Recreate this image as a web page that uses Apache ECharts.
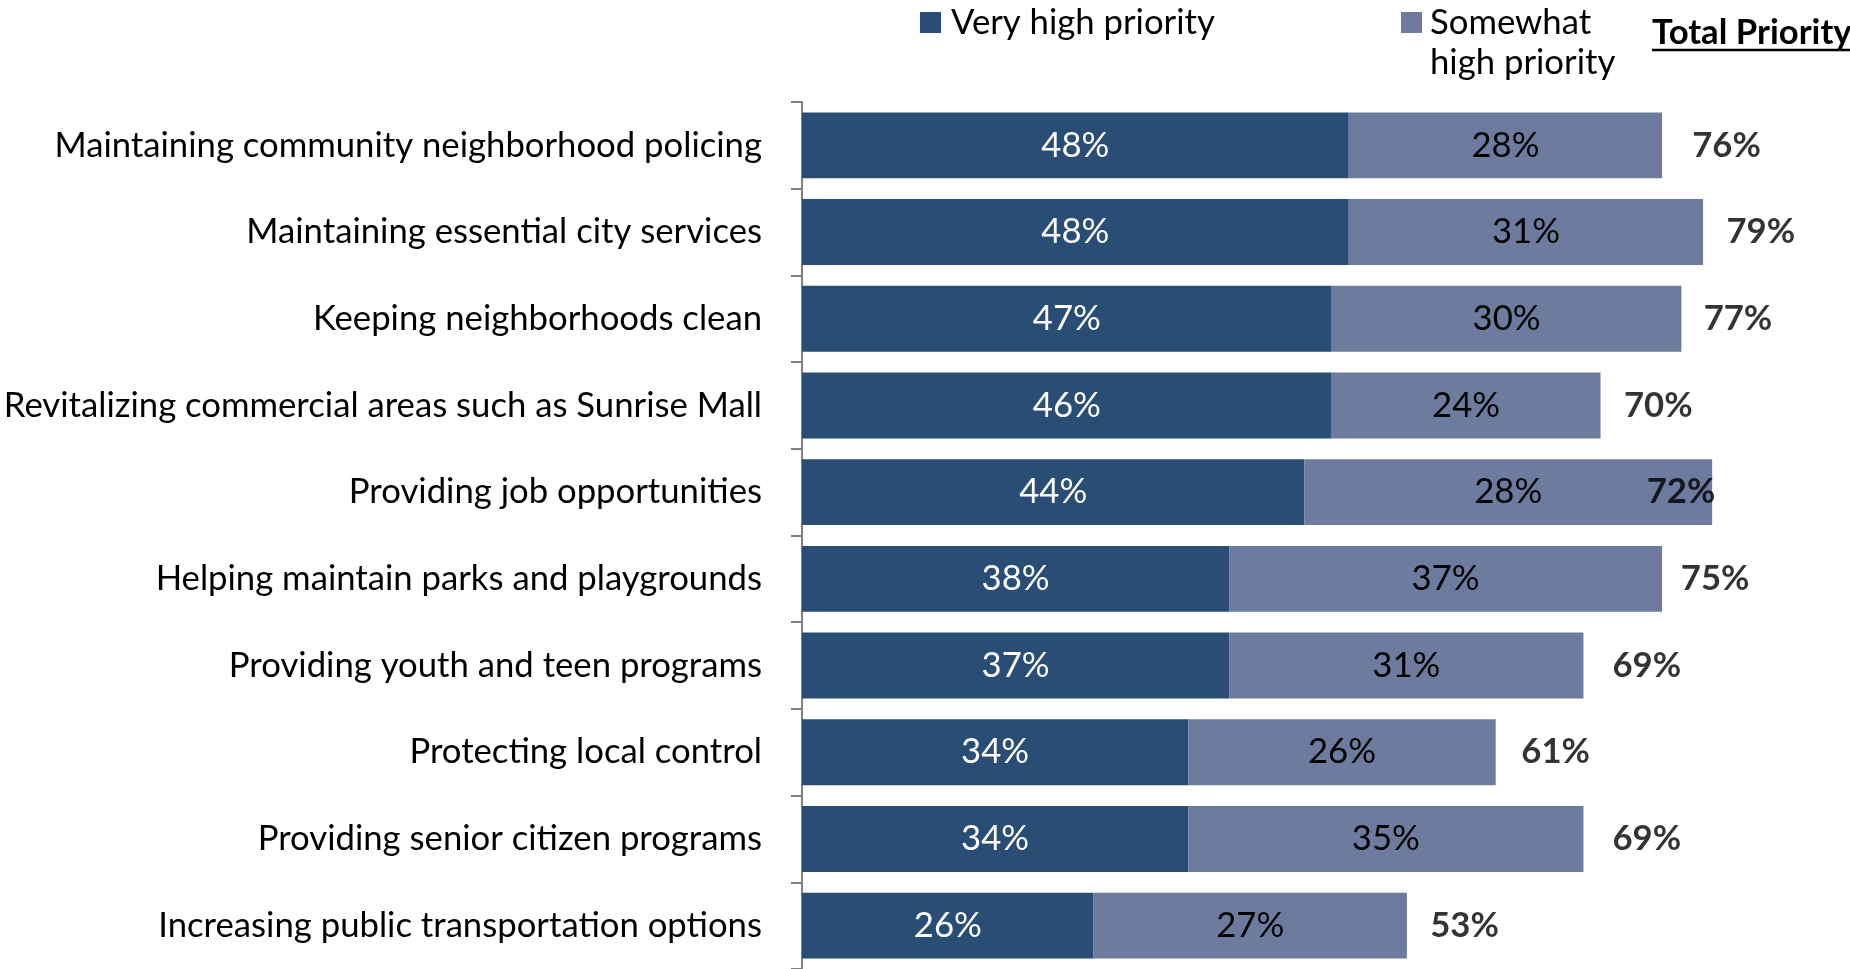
<!DOCTYPE html>
<html>
<head>
<meta charset="utf-8">
<style>
  html, body { margin: 0; padding: 0; background: #ffffff; }
  #chart { width: 1850px; height: 969px; }
</style>
<script src="https://cdn.jsdelivr.net/npm/echarts@6/dist/echarts.min.js"></script>
</head>
<body>
<div id="chart"></div>
<script>
// ---------------- data ----------------
const categories = [
  'Maintaining community neighborhood policing',
  'Maintaining essential city services',
  'Keeping neighborhoods clean',
  'Revitalizing commercial areas such as Sunrise Mall',
  'Providing job opportunities',
  'Helping maintain parks and playgrounds',
  'Providing youth and teen programs',
  'Protecting local control',
  'Providing senior citizen programs',
  'Increasing public transportation options'
];
// bar lengths as drawn in the picture
const veryHigh     = [48.0, 48.0, 46.5, 46.5, 44.1, 37.5, 37.5, 33.9, 33.9, 25.6];
const somewhatHigh = [27.5, 31.1, 30.7, 23.6, 35.8, 38.0, 31.1, 27.0, 34.7, 27.5];
// printed labels
const veryHighLabels     = [48, 48, 47, 46, 44, 38, 37, 34, 34, 26];
const somewhatHighLabels = [28, 31, 30, 24, 28, 37, 31, 26, 35, 27];
const totalLabels        = [76, 79, 77, 70, 72, 75, 69, 61, 69, 53];

const seriesNames = ['Very high priority', 'Somewhat high priority'];
const totalTitle = 'Total Priority';

// ---------------- styling ----------------
const FONT = 'Lato';
const cv = document.createElement('canvas').getContext('2d');
function textWidth(t, weight, size) { cv.font = weight + ' ' + size + 'px ' + FONT; return cv.measureText(t).width; }
// size the font so the longest label spans the same width as in the reference
const fs = Math.round(100 * 708 / textWidth(categories[0], 'normal', 100) * 10) / 10;
const DARK = '#294D75';
const LIGHT = '#6D7B9E';
const AXIS = '#808080';

const chart = echarts.init(document.getElementById('chart'), null, { renderer: 'canvas' });
const titleW = textWidth(totalTitle, 'bold', fs);

const option = {
  animation: false,
  backgroundColor: '#ffffff',
  textStyle: { fontFamily: FONT },
  grid: { left: 802, top: 102, width: 92 * 11.45, height: 870, containLabel: false },
  legend: [
    {
      data: [seriesNames[0]], left: 920, top: 5, padding: 0, itemWidth: 21, itemHeight: 21,
      icon: 'rect', selectedMode: false,
      textStyle: { fontFamily: FONT, fontSize: fs, color: '#000', padding: [0, 0, 0, 5] }
    },
    {
      data: [seriesNames[1]], left: 1401, top: 5, padding: 0, itemWidth: 21, itemHeight: 21,
      icon: 'rect', selectedMode: false,
      formatter: function (n) { return n.split(' ')[0]; },
      textStyle: { fontFamily: FONT, fontSize: fs, color: '#000', padding: [0, 0, 0, 3] }
    }
  ],
  graphic: [
    { type: 'text', left: 1430, top: 45, style: { text: seriesNames[1].split(' ').slice(1).join(' '), font: 'normal ' + fs + 'px ' + FONT, fill: '#000' } },
    { type: 'text', x: 1652, y: 33, style: { text: totalTitle, font: 'bold ' + fs + 'px ' + FONT, fill: '#000', verticalAlign: 'middle', align: 'left' } },
    { type: 'line', shape: { x1: 1652, y1: 50, x2: 1652 + titleW, y2: 50 }, style: { stroke: '#000', lineWidth: 2.5 } }
  ],
  xAxis: {
    type: 'value', min: 0, max: 92,
    axisLine: { show: false }, axisTick: { show: false },
    axisLabel: { show: false }, splitLine: { show: false }
  },
  yAxis: {
    type: 'category', data: categories, inverse: true,
    axisLine: { show: true, lineStyle: { color: AXIS, width: 2 } },
    axisTick: { show: true, length: 11, lineStyle: { color: AXIS, width: 2 } },
    axisLabel: { fontFamily: FONT, fontSize: fs, color: '#000', margin: 40 }
  },
  series: [
    {
      name: seriesNames[0], type: 'bar', stack: 'p', data: veryHigh,
      barCategoryGap: '24%', itemStyle: { color: DARK },
      label: {
        show: true, position: 'inside', color: '#fff', fontFamily: FONT, fontSize: fs,
        formatter: function (p) { return veryHighLabels[p.dataIndex] + '%'; }
      }
    },
    {
      name: seriesNames[1], type: 'bar', stack: 'p', data: somewhatHigh,
      barCategoryGap: '24%', itemStyle: { color: LIGHT },
      label: {
        show: true, position: 'inside', color: '#000', fontFamily: FONT, fontSize: fs,
        formatter: function (p) { return somewhatHighLabels[p.dataIndex] + '%'; }
      }
    },
    {
      name: totalTitle, type: 'scatter', z: 5,
      data: totalLabels.map(function (v, i) { return [v, i]; }),
      symbolSize: 1, itemStyle: { color: 'rgba(0,0,0,0)' },
      silent: true,
      label: {
        show: true, position: 'right', distance: 24, color: '#000',
        fontFamily: FONT, fontSize: fs, fontWeight: 'bold',
        formatter: function (p) { return totalLabels[p.dataIndex] + '%'; }
      }
    }
  ]
};
chart.setOption(option);
</script>
</body>
</html>
